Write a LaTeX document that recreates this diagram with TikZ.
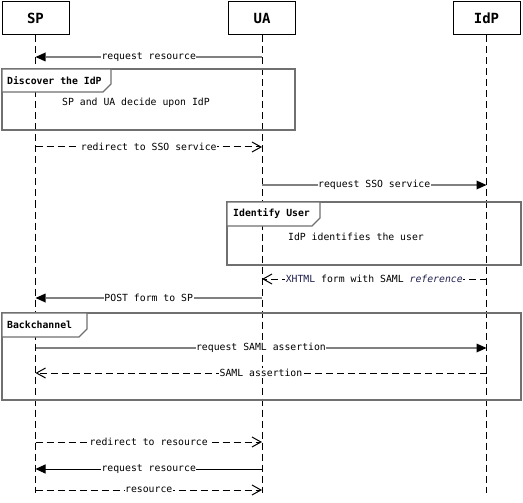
\documentclass[tikz,border=0pt]{standalone}
\usepackage{fontspec}
\setmainfont{DejaVu Sans Mono}
\usetikzlibrary{arrows.meta}
\definecolor{msggray}{HTML}{808080}
\definecolor{framegray}{HTML}{707070}
\definecolor{refblue}{HTML}{202050}
\tikzset{
  actor/.style={draw=black, line width=1pt, fill=white, minimum width=67pt, minimum height=33pt,
    inner sep=0pt, font=\fontsize{14}{16}\selectfont\bfseries},
  lifeline/.style={draw=black, line width=1pt, dash pattern=on 7pt off 4pt},
  call/.style={draw=msggray, line width=2pt, -{Triangle[length=10pt,width=9pt,line width=0pt,fill=black]}},
  callblack/.style={draw=black, line width=1pt, -{Triangle[length=10pt,width=9pt]}},
  reply/.style={draw=black, line width=1pt, dash pattern=on 7pt off 4pt,
    -{Straight Barb[length=9pt,width=10pt,line width=1pt]}},
  msglabel/.style={fill=white, inner xsep=0.5pt, inner ysep=1pt, font=\fontsize{9.8}{11}\selectfont},
  framebox/.style={draw=framegray, line width=1.6pt},
  fragtag/.style={draw=framegray, line width=1.2pt, fill=white},
  tagtext/.style={anchor=west, inner sep=0pt, font=\fontsize{9.8}{11}\selectfont\bfseries},
  note/.style={inner sep=0pt, font=\fontsize{9.8}{11}\selectfont},
}
\begin{document}
\begin{tikzpicture}[x=1pt, y=-1pt]
  \useasboundingbox[fill=white] (0,0) rectangle (523,503);

  % participants
  \node[actor] (sp)  at (35.5,18.5) {SP};
  \node[actor] (ua)  at (262,18.5) {UA};
  \node[actor] (idp) at (486.5,18.5) {IdP};

  % row positions
  \coordinate (r1) at (0,57);
  \coordinate (r2) at (0,147);
  \coordinate (r3) at (0,185);
  \coordinate (r4) at (0,279);
  \coordinate (r5) at (0,298);
  \coordinate (r6) at (0,348);
  \coordinate (r7) at (0,373);
  \coordinate (r8) at (0,442);
  \coordinate (r9) at (0,469);
  \coordinate (r10) at (0,490);
  \coordinate (bot) at (0,493);

  % lifelines
  \draw[lifeline] (sp.south) -- (sp |- bot);
  \draw[lifeline] (ua.south) -- (ua |- bot);
  \draw[lifeline] (idp.south) -- (idp |- bot);

  % fragment: Discover the IdP
  \draw[framebox] (2,69) rectangle (295,130);
  \draw[fragtag] (2,69) -- (111,69) -- (111,84) -- (103,92) -- (2,92) -- cycle;
  \node[tagtext] (f1) at (7,80.5) {Discover the IdP};
  \node[note] (n1) at (136,103) {SP and UA decide upon IdP};

  % fragment: Identify User
  \draw[framebox] (227,202) rectangle (521,265);
  \draw[fragtag] (227,202) -- (320,202) -- (320,218) -- (312,226) -- (227,226) -- cycle;
  \node[tagtext] (f2) at (233,214) {Identify User};
  \node[note] (n2) at (356,237) {IdP identifies the user};

  % fragment: Backchannel
  \draw[framebox] (2,313) rectangle (521,400);
  \draw[fragtag] (2,313) -- (87,313) -- (87,329) -- (79,337) -- (2,337) -- cycle;
  \node[tagtext] (f3) at (7,325) {Backchannel};

  % messages
  \draw[call] (ua |- r1) -- node[msglabel] (m1) {request resource} (sp |- r1);
  \draw[reply] (sp |- r2) -- node[msglabel] (m2) {redirect to SSO service} (ua |- r2);
  \draw[call] (ua |- r3) -- node[msglabel] (m3) {request SSO service} (idp |- r3);
  \draw[reply] (idp |- r4) -- node[msglabel] (m4)
    {\textcolor{refblue}{XHTML} form with SAML \textcolor{refblue}{\textit{reference}}} (ua |- r4);
  \draw[call] (ua |- r5) -- node[msglabel] (m5) {POST form to SP} (sp |- r5);
  \draw[call] (sp |- r6) -- node[msglabel] (m6) {request SAML assertion} (idp |- r6);
  \draw[reply] (idp |- r7) -- node[msglabel] (m7) {SAML assertion} (sp |- r7);
  \draw[reply] (sp |- r8) -- node[msglabel] (m8) {redirect to resource} (ua |- r8);
  \draw[callblack] (ua |- r9) -- node[msglabel] (m9) {request resource} (sp |- r9);
  \draw[reply] (sp |- r10) -- node[msglabel] (m10) {resource} (ua |- r10);
\end{tikzpicture}
\end{document}
